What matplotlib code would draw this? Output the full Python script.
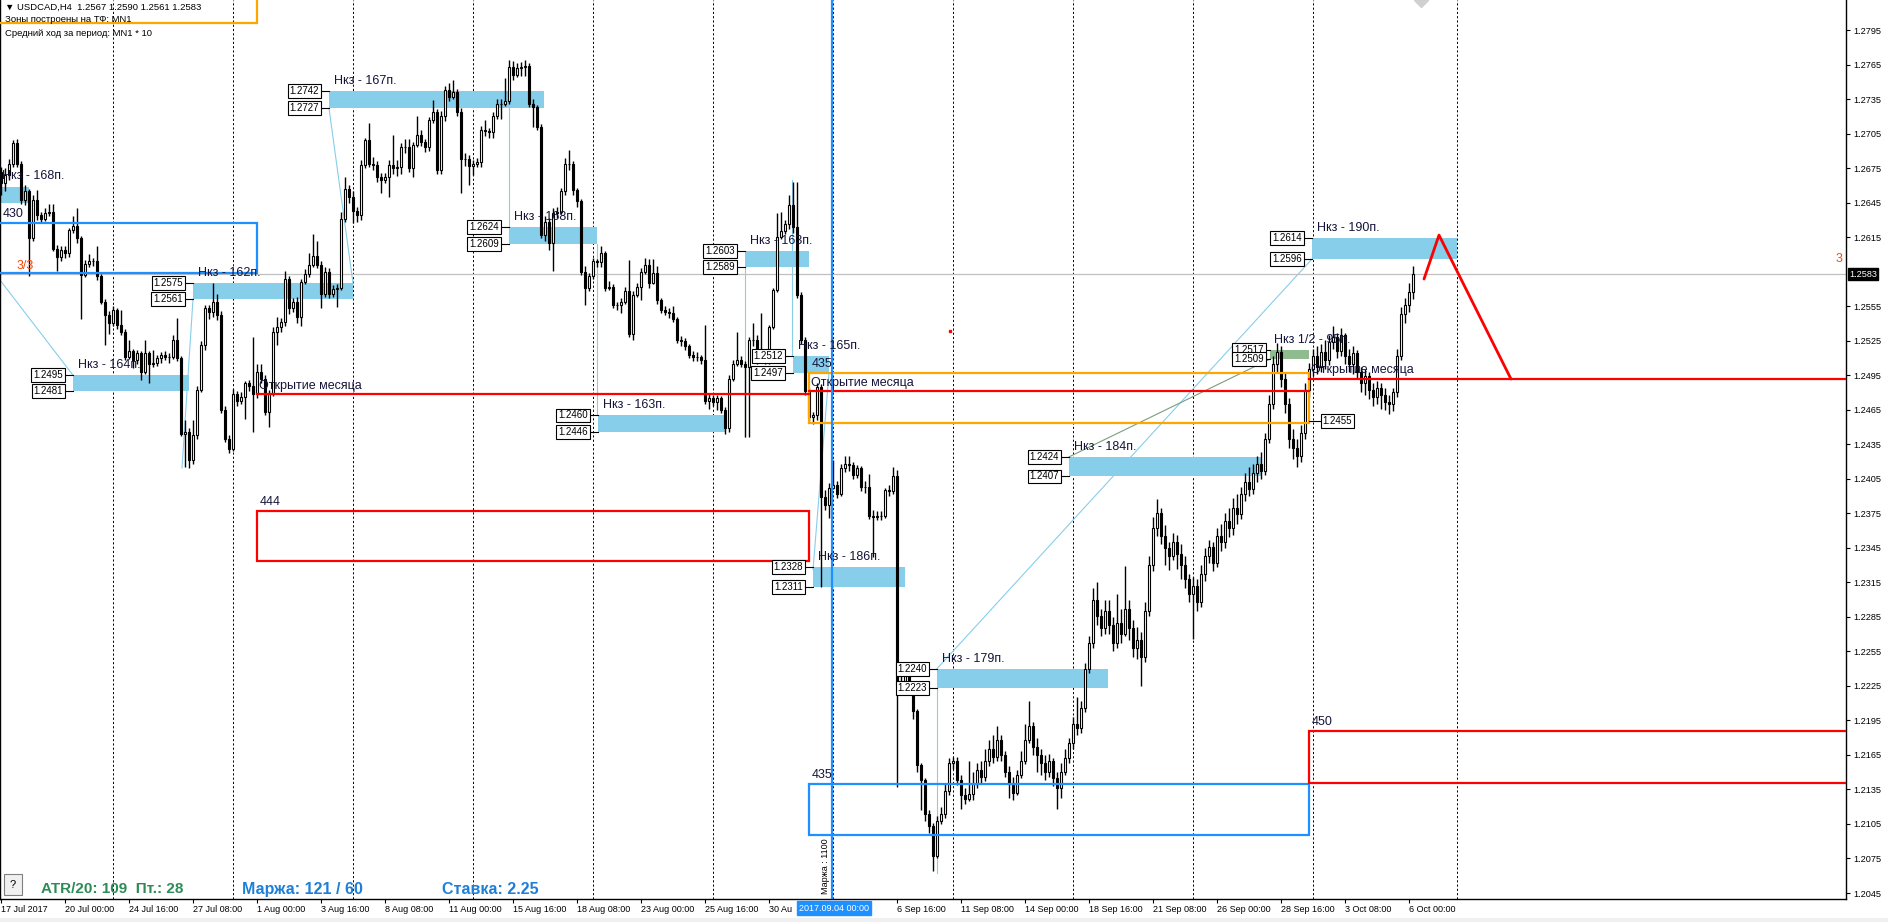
import matplotlib
matplotlib.use('Agg')
import matplotlib.pyplot as plt
from matplotlib.patches import Rectangle
import numpy as np

plt.rcParams['font.family'] = ['Liberation Sans', 'DejaVu Sans']

# ---- USDCAD H4 candles, values in pips above 1.2000 (bar 0 = first visible bar)
first_open = 672
closes = [
    662, 669, 679, 697, 679, 647, 655, 614, 647, 634,
    631, 636, 637, 605, 598, 604, 601, 621, 625, 614,
    582, 592, 594, 594, 581, 559, 547, 540, 552, 539,
    533, 511, 516, 508, 514, 498, 514, 505, 506, 510,
    513, 511, 511, 526, 510, 444, 446, 421, 443, 482,
    521, 553, 550, 559, 547, 465, 440, 431, 479, 473,
    476, 488, 486, 479, 498, 492, 463, 479, 533, 537,
    541, 579, 553, 559, 546, 576, 583, 591, 599, 591,
    566, 585, 566, 570, 571, 631, 657, 650, 638, 634,
    678, 699, 679, 678, 667, 665, 667, 678, 675, 676,
    693, 693, 675, 695, 704, 698, 693, 717, 724, 673,
    720, 743, 737, 741, 724, 683, 683, 677, 679, 680,
    708, 707, 706, 720, 731, 731, 733, 763, 756, 762,
    763, 764, 731, 728, 711, 617, 628, 610, 636, 637,
    655, 679, 679, 656, 646, 585, 571, 581, 594, 593,
    601, 571, 572, 556, 556, 559, 568, 531, 565, 572,
    585, 591, 575, 584, 560, 552, 550, 549, 544, 526,
    525, 520, 513, 511, 511, 508, 473, 475, 472, 475,
    465, 449, 492, 505, 508, 505, 502, 526, 526, 508,
    511, 508, 537, 569, 615, 620, 626, 643, 624, 565,
    526, 481, 459, 460, 485, 389, 382, 397, 400, 392,
    414, 418, 417, 408, 414, 398, 398, 373, 372, 373,
    373, 395, 394, 407, 226, 229, 236, 227, 203, 156,
    143, 114, 103, 77, 108, 114, 134, 158, 160, 143,
    130, 127, 131, 140, 152, 146, 160, 170, 163, 178,
    165, 150, 140, 132, 148, 160, 178, 190, 172, 165,
    158, 150, 160, 145, 136, 150, 162, 175, 192, 188,
    206, 240, 262, 300, 286, 275, 290, 278, 262, 280,
    270, 292, 275, 258, 265, 250, 290, 330, 362, 375,
    355, 345, 338, 350, 340, 330, 318, 305, 312, 298,
    322, 338, 346, 332, 355, 350, 368, 362, 380, 374,
    392, 402, 396, 410, 418, 412, 440, 470, 505, 515,
    492, 470, 440, 432, 425, 445, 482, 500, 512, 502,
    515, 508, 524, 528, 516, 530, 512, 505, 514, 498,
    488, 494, 482, 476, 484, 478, 472, 470, 480, 512,
    548, 556, 567, 583,
]
highs = [
    676, 675, 683, 699, 700, 681, 660, 657, 652, 656,
    637, 640, 644, 644, 608, 607, 607, 623, 633, 640,
    616, 595, 600, 597, 607, 583, 561, 551, 555, 553,
    552, 535, 526, 518, 517, 516, 526, 516, 517, 513,
    515, 516, 514, 530, 545, 512, 456, 449, 456, 486,
    525, 556, 556, 575, 566, 551, 468, 443, 483, 481,
    480, 490, 491, 528, 505, 505, 495, 482, 537, 546,
    545, 586, 581, 562, 563, 579, 587, 601, 618, 612,
    594, 589, 588, 573, 574, 637, 667, 660, 655, 641,
    682, 701, 714, 685, 681, 671, 671, 682, 704, 682,
    697, 700, 700, 698, 720, 708, 700, 719, 734, 726,
    725, 746, 749, 752, 744, 727, 688, 686, 682, 684,
    712, 717, 710, 724, 735, 735, 753, 769, 768, 766,
    767, 769, 766, 735, 730, 713, 633, 632, 640, 641,
    658, 684, 691, 681, 658, 648, 590, 584, 597, 596,
    607, 603, 577, 574, 559, 562, 572, 595, 568, 575,
    588, 597, 596, 596, 590, 562, 555, 553, 555, 546,
    529, 527, 522, 516, 515, 513, 539, 479, 478, 478,
    477, 467, 495, 508, 533, 512, 507, 528, 540, 530,
    549, 516, 539, 571, 636, 637, 630, 652, 663, 663,
    567, 528, 484, 463, 488, 487, 395, 401, 421, 403,
    418, 425, 425, 420, 417, 416, 403, 409, 378, 377,
    377, 397, 400, 415, 413, 239, 239, 239, 229, 205,
    158, 145, 117, 106, 112, 120, 140, 162, 163, 163,
    148, 136, 160, 150, 158, 160, 170, 178, 182, 190,
    182, 168, 155, 146, 152, 168, 192, 212, 194, 180,
    170, 165, 166, 162, 150, 158, 170, 180, 198, 215,
    212, 245, 268, 310, 315, 292, 300, 300, 285, 305,
    292, 329, 300, 282, 276, 272, 298, 338, 372, 387,
    380, 365, 350, 358, 356, 348, 338, 322, 320, 318,
    330, 345, 352, 350, 362, 366, 375, 380, 388, 392,
    398, 410, 415, 418, 425, 428, 445, 478, 512, 523,
    520, 498, 475, 448, 440, 452, 488, 506, 518, 520,
    522, 526, 530, 538, 532, 536, 532, 518, 520, 517,
    502, 500, 498, 488, 490, 488, 484, 478, 484, 518,
    554, 562, 575, 590,
]
lows = [
    652, 655, 665, 676, 676, 644, 643, 581, 612, 630,
    627, 629, 633, 603, 586, 594, 597, 598, 619, 610,
    544, 580, 589, 590, 578, 557, 521, 531, 538, 535,
    530, 508, 509, 501, 505, 491, 496, 488, 502, 503,
    506, 508, 506, 509, 507, 442, 415, 414, 418, 440,
    480, 517, 544, 546, 543, 462, 437, 427, 429, 468,
    470, 457, 481, 446, 475, 488, 460, 450, 477, 521,
    533, 538, 548, 550, 540, 538, 574, 580, 589, 588,
    553, 563, 562, 563, 554, 569, 628, 645, 627, 628,
    630, 675, 676, 673, 663, 653, 662, 650, 670, 668,
    670, 688, 672, 667, 693, 694, 689, 690, 714, 670,
    670, 716, 733, 735, 720, 653, 677, 660, 669, 676,
    676, 703, 701, 701, 718, 718, 729, 731, 752, 754,
    755, 755, 728, 711, 708, 614, 612, 604, 586, 632,
    635, 652, 673, 652, 641, 582, 556, 568, 579, 589,
    589, 568, 569, 553, 552, 549, 557, 528, 526, 563,
    560, 583, 571, 574, 557, 549, 547, 545, 541, 523,
    520, 517, 510, 507, 507, 505, 470, 466, 468, 465,
    462, 444, 446, 490, 503, 502, 441, 441, 520, 505,
    506, 505, 505, 535, 567, 613, 618, 622, 619, 562,
    522, 478, 455, 453, 456, 311, 378, 371, 396, 388,
    390, 411, 412, 405, 406, 394, 393, 370, 337, 369,
    369, 371, 390, 392, 137, 222, 226, 223, 196, 150,
    117, 108, 97, 64, 75, 105, 110, 130, 153, 139,
    118, 122, 125, 126, 136, 140, 142, 155, 158, 160,
    160, 146, 128, 126, 130, 145, 157, 175, 165, 150,
    148, 143, 146, 138, 118, 128, 148, 158, 170, 182,
    184, 202, 236, 258, 278, 268, 270, 270, 255, 258,
    262, 268, 265, 250, 248, 225, 246, 286, 325, 355,
    348, 330, 326, 334, 327, 318, 310, 298, 266, 290,
    294, 316, 332, 325, 328, 342, 345, 354, 356, 366,
    370, 386, 390, 392, 402, 405, 408, 436, 466, 498,
    485, 462, 432, 422, 415, 420, 440, 476, 494, 496,
    498, 500, 504, 518, 510, 512, 505, 498, 496, 492,
    480, 478, 474, 468, 470, 466, 465, 461, 464, 476,
    508, 540, 550, 561,
]

# x axis labels (bar index, text); '30 Au...' is cut by the cursor label
time_ticks = [0, 16, 32, 48, 64, 80, 96, 112, 128, 144, 160, 176, 192,
              224, 240, 256, 272, 288, 304, 320, 336, 352]
time_labels = ['17 Jul 2017', '20 Jul 00:00', '24 Jul 16:00', '27 Jul 08:00',
               '1 Aug 00:00', '3 Aug 16:00', '8 Aug 08:00', '11 Aug 00:00',
               '15 Aug 16:00', '18 Aug 08:00', '23 Aug 00:00', '25 Aug 16:00',
               '30 Au', '6 Sep 16:00', '11 Sep 08:00', '14 Sep 00:00',
               '18 Sep 16:00', '21 Sep 08:00', '26 Sep 00:00', '28 Sep 16:00',
               '3 Oct 08:00', '6 Oct 00:00']
week_lines = [28, 58, 88, 118, 148, 178, 208, 238, 268, 298, 328, 364]
price_ticks = [1.2045, 1.2075, 1.2105, 1.2135, 1.2165, 1.2195, 1.2225, 1.2255,
               1.2285, 1.2315, 1.2345, 1.2375, 1.2405, 1.2435, 1.2465, 1.2495,
               1.2525, 1.2555, 1.2615, 1.2645, 1.2675, 1.2705, 1.2735, 1.2765,
               1.2795]
bid = 1.2583

# Нкз zones: start bar, end bar, top, bottom, caption, show price boxes
zones = [
    (-1, 7, 1.2659, 1.2645, 'Нкз - 168п.', False),
    (18, 47, 1.2495, 1.2481, 'Нкз - 164п.', True),
    (48, 88, 1.2575, 1.2561, 'Нкз - 162п.', True),
    (82, 135.75, 1.2742, 1.2727, 'Нкз - 167п.', True),
    (127, 149, 1.2624, 1.2609, 'Нкз - 168п.', True),
    (149.25, 181, 1.2460, 1.2446, 'Нкз - 163п.', True),
    (186, 202, 1.2603, 1.2589, 'Нкз - 163п.', True),
    (198, 207, 1.2512, 1.2497, 'Нкз - 165п.', True),
    (203, 226, 1.2328, 1.2311, 'Нкз - 186п.', True),
    (234, 276.75, 1.2240, 1.2223, 'Нкз - 179п.', True),
    (267, 315.25, 1.2424, 1.2407, 'Нкз - 184п.', True),
    (327.75, 364, 1.2614, 1.2596, 'Нкз - 190п.', True),
]
half_zone = (317.25, 327, 1.2517, 1.2509, 'Нкз 1/2 - 95п.')

# outlined boxes: start, end, bottom, top, colour, caption
boxes = [
    (-1, 64, 1.28013, 1.2900, '#FFA500', ''),
    (-1, 64, 1.25838, 1.26273, '#1E90FF', '430'),
    (64, 202, 1.23335, 1.23770, '#FF0000', '444'),
    (202, 327, 1.24535, 1.24969, '#FFA500', '435'),
    (202, 327, 1.20954, 1.21397, '#1E90FF', '435'),
    (327, 470, 1.21406, 1.21858, '#FF0000', '450'),
]
# month open lines: start, end, price
month_open = [(64, 202, 1.24787), (202, 327, 1.24813), (327, 470, 1.24920)]

# thin connector lines between zones
links = [
    ((-0.25, 18), (1.25777, 1.2495), '#87CEEB'),
    ((45.25, 48), (1.24144, 1.2561), '#87CEEB'),
    ((82, 88), (1.2727, 1.2575), '#87CEEB'),
    ((127, 127), (1.2727, 1.2609), '#87CEEB'),
    ((149, 149), (1.2609, 1.2460), '#87CEEB'),
    ((186, 186), (1.2589, 1.2441), '#87CEEB'),
    ((197.75, 197.75), (1.2665, 1.2512), '#87CEEB'),
    ((207, 203), (1.2497, 1.2326), '#87CEEB'),
    ((234, 234), (1.2240, 1.2062), '#87CEEB'),
    ((234, 327.75), (1.2240, 1.2596), '#87CEEB'),
    ((267, 317.25), (1.2424, 1.2509), '#7A9E7A'),
]
arrow_x = [355.75, 359.5, 377.5]
arrow_y = [1.25786, 1.26168, 1.24917]
sep_line = 207.75

W, H = 1888, 922


def fpx(x, y):
    return x / W, 1 - y / H


fig = plt.figure(figsize=(W / 100, H / 100), dpi=100)
fig.patch.set_facecolor('white')
ax = fig.add_axes([0, 23 / H, 1846 / W, 899 / H])
ax.set_xlim(-0.25, 461.25)
ax.set_ylim(1.20398, 1.28211)
ax.set_facecolor('white')

dark = '#14143a'

# week grid
for b in week_lines:
    ax.axvline(b, color='black', lw=0.7, dashes=(2.2, 2.2), zorder=0.5)

# zones
for s, e, top, bot, cap, show in zones:
    ax.add_patch(Rectangle((s, bot), e - s, top - bot, fc='#87CEEB', ec='none', zorder=1))
    ax.text(s + 1.2, top + 0.00035, cap, fontsize=9, color=dark, ha='left', va='bottom', zorder=6)
    if show:
        for p in (top, bot):
            ax.plot([s - 2.1, s], [p, p], color='black', lw=0.8, zorder=5)
            ax.text(s - 2.5, p, f'{p:.4f}', fontsize=7, ha='right', va='center', zorder=6,
                    bbox=dict(boxstyle='square,pad=0.2', fc='white', ec='black', lw=0.8))
s, e, top, bot, cap = half_zone
ax.add_patch(Rectangle((s, bot), e - s, top - bot, fc='#8FBC8F', ec='none', zorder=1))
ax.text(s + 1.0, top + 0.00035, cap, fontsize=9, color=dark, ha='left', va='bottom', zorder=6)
for p in (top, bot):
    ax.plot([s - 1.2, s], [p, p], color='black', lw=0.8, zorder=5)
    ax.text(s - 1.6, p, f'{p:.4f}', fontsize=7, ha='right', va='center', zorder=6,
            bbox=dict(boxstyle='square,pad=0.2', fc='white', ec='black', lw=0.8))
ax.plot([327, 330], [1.2455, 1.2455], color='black', lw=0.8, zorder=5)
ax.text(330.4, 1.2455, '1.2455', fontsize=7, ha='left', va='center', zorder=6,
        bbox=dict(boxstyle='square,pad=0.2', fc='white', ec='black', lw=0.8))

for xs, ys, c in links:
    ax.plot(xs, ys, color=c, lw=0.8, zorder=2)

# candles
idx = np.arange(len(closes))
c_arr = np.array(closes, float)
o_arr = np.concatenate([[first_open], c_arr[:-1]])
h_arr = np.maximum(np.array(highs, float), np.maximum(o_arr, c_arr))
l_arr = np.minimum(np.array(lows, float), np.minimum(o_arr, c_arr))
to_price = lambda v: 1.2 + v / 10000.0
ax.vlines(idx, to_price(l_arr), to_price(h_arr), color='black', lw=1.0, zorder=2.9)
bottoms = to_price(np.minimum(o_arr, c_arr))
heights = np.abs(c_arr - o_arr) / 10000.0
colors = ['white' if c >= o else 'black' for o, c in zip(o_arr, c_arr)]
ax.bar(idx, heights, bottom=bottoms, width=0.6, color=colors, edgecolor='black',
       linewidth=0.8, zorder=3)

# bid line
ax.axhline(bid, color='#C0C0C0', lw=0.9, zorder=2.5)

# outlined boxes and month open lines
for s, e, b, t, col, cap in boxes:
    ax.add_patch(Rectangle((s, b), e - s, t - b, fc='none', ec=col, lw=1.6, zorder=4))
    if cap:
        ax.text(s + 0.6 if s >= 0 else 0.3, t + 0.0003, cap, fontsize=9, color=dark,
                ha='left', va='bottom', zorder=6)
for s, e, p in month_open:
    ax.plot([s, e], [p, p], color='#FF0000', lw=1.6, zorder=4)
    ax.text(s + 0.4, p + 0.0002, 'Открытие месяца', fontsize=9, color=dark,
            ha='left', va='bottom', zorder=6)

ax.axvline(sep_line, color='#1E90FF', lw=1.6, zorder=4)
ax.plot(arrow_x, arrow_y, color='#FF0000', lw=2.0, zorder=4, solid_capstyle='round')
ax.plot([237.25], [1.25334], marker='s', ms=2, color='#FF0000', zorder=5)
ax.plot([355], [1.2821], marker='D', ms=7, color='#D0D0D0', zorder=5, clip_on=False)

ax.text(4, 1.2590, '3/3', fontsize=9, color='#FF4500', ha='left', va='center', zorder=6)
ax.text(459.5, 1.2596, '3', fontsize=9, color='#FF4500', ha='center', va='center', zorder=6)

# axes styling
ax.spines['top'].set_visible(False)
for sp in ('left', 'right', 'bottom'):
    ax.spines[sp].set_linewidth(1.0)
ax.yaxis.tick_right()
ax.set_yticks(price_ticks)
ax.set_yticklabels([f'{p:.4f}' for p in price_ticks])
ax.tick_params(axis='y', direction='out', length=3, width=0.8, pad=2, labelsize=6.6)
ax.set_xticks(time_ticks)
ax.set_xticklabels(time_labels, ha='left')
ax.tick_params(axis='x', direction='out', length=3, width=0.8, pad=1.5, labelsize=6.5)

# bid label on price scale
fig.text(*fpx(1849, 274), '1.2583', fontsize=6.6, color='white', ha='left', va='center',
         bbox=dict(boxstyle='square,pad=0.15', fc='black', ec='black'))
# time cursor label
fig.text(*fpx(834, 908), '2017.09.04 00:00', fontsize=6.5, color='white', ha='center',
         va='center', zorder=10,
         bbox=dict(boxstyle='square,pad=0.25', fc='#1E90FF', ec='#1E90FF'))

# header
fig.text(*fpx(5, 7), '▼ USDCAD,H4  1.2567 1.2590 1.2561 1.2583', fontsize=6.8,
         color='black', ha='left', va='center')
fig.text(*fpx(5, 20), 'Зоны построены на ТФ: MN1', fontsize=6.8, color='black',
         ha='left', va='center')
fig.text(*fpx(5, 33), 'Средний ход за период: MN1 * 10', fontsize=6.8, color='black',
         ha='left', va='center')

# bottom panel
fig.patches.append(Rectangle(fpx(4, 895), 18 / W, 21 / H, transform=fig.transFigure,
                             fc='#F0F0F0', ec='#808080', lw=0.8))
fig.text(*fpx(13, 885), '?', fontsize=8, color='black', ha='center', va='center')
fig.text(*fpx(41, 889), 'ATR/20: 109  Пт.: 28', fontsize=11, fontweight='bold',
         color='#2E8B57', ha='left', va='center')
fig.text(*fpx(242, 889), 'Маржа: 121 / 60', fontsize=11.5, fontweight='bold',
         color='#1E7FD8', ha='left', va='center')
fig.text(*fpx(442, 889), 'Ставка: 2.25', fontsize=11.5, fontweight='bold',
         color='#1E7FD8', ha='left', va='center')
fig.text(*fpx(826, 894), 'Маржа : 1100', fontsize=6.5, color='black', rotation=90,
         ha='center', va='bottom')
fig.patches.append(Rectangle((0, 0), 1, 4 / H, transform=fig.transFigure,
                             fc='#F0F0F0', ec='none'))

fig.savefig('out.png', dpi=100, facecolor='white')
